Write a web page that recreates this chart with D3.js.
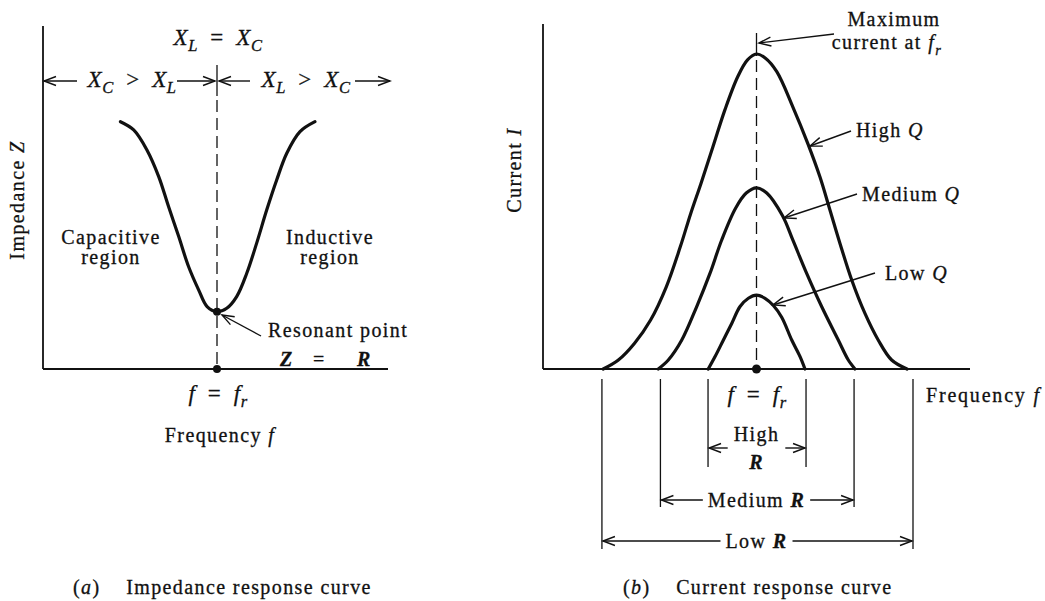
<!DOCTYPE html>
<html><head><meta charset="utf-8">
<script src="https://cdn.jsdelivr.net/npm/d3@7"></script>
<style>
html,body{margin:0;padding:0;background:#fff;}
svg text{font-family:"Liberation Serif","Times New Roman",serif;fill:#111;stroke:#111;stroke-width:0.3px;white-space:pre;}
</style></head><body>
<svg id="c" width="1045" height="601"></svg>
<script>
// ---------- data ----------
// (a) impedance curve: relative frequency vs impedance
const impedanceFreq = [-5.55,-4.79,-4.02,-3.35,-2.78,-2.20,-1.63,-1.05,-0.57,0,0.56,1.13,1.71,2.28,2.86,3.43,4.01,4.77,5.63];
const impedanceZ    = [7.21,6.97,6.38,5.61,4.73,3.86,2.98,2.30,1.82,1.67,1.77,2.11,2.79,3.67,4.64,5.51,6.29,6.92,7.21];
const resonantFreq = 0, resonantZ = 1.67;

// (b) current curves: relative frequency vs current
const highQFreq    = [-7.18,-6.47,-5.72,-4.96,-4.22,-3.57,-3.08,-2.60,-2.04,-1.48,-0.88,-0.42,0,0.42,0.95,1.70,2.40,2.97,3.44,3.91,4.46,5.08,5.70,6.33,7.05];
const highQCurrent = [0,0.26,0.74,1.42,2.39,3.54,4.51,5.38,6.44,7.51,8.47,8.96,9.13,9.01,8.62,7.60,6.54,5.57,4.61,3.64,2.58,1.61,0.84,0.26,0];
const medQFreq     = [-4.60,-4.13,-3.50,-2.80,-2.18,-1.63,-0.98,-0.48,0,0.48,1.22,1.70,2.35,3.05,3.83,4.30,4.61];
const medQCurrent  = [0,0.26,0.84,1.81,2.77,3.74,4.66,5.10,5.25,5.10,4.44,3.74,2.77,1.81,0.84,0.26,0];
const lowQFreq     = [-2.26,-1.94,-1.55,-1.16,-0.77,-0.38,0,0.40,0.79,1.18,1.65,2.04,2.27];
const lowQCurrent  = [0,0.36,0.84,1.32,1.81,2.05,2.14,2.05,1.84,1.50,0.84,0.36,0];

// bandwidth brackets
const bandNames = ["High", "Medium", "Low"];
const bandFrom  = [-2.27, -4.50, -7.24];
const bandTo    = [2.32, 4.57, 7.33];

// ---------- drawing ----------
const svg = d3.select('#c');
const ink = '#111';
const FS = 20;
const xL = d3.scaleLinear([-10,10],[43,391]);
const yL = d3.scaleLinear([0,10],[369,26]);
const xR = d3.scaleLinear([-10,10],[543,970]);
const yR = d3.scaleLinear([0,10],[369,24]);

function line(x1,y1,x2,y2,w=1.6,dash=null){
  const l = svg.append('line').attr('x1',x1).attr('y1',y1).attr('x2',x2).attr('y2',y2)
    .attr('stroke',ink).attr('stroke-width',w);
  if(dash) l.attr('stroke-dasharray',dash);
  return l;
}
function arrow(x1,y1,x2,y2,len=12,spread=4.5){
  line(x1,y1,x2,y2,1.4);
  const a = Math.atan2(y2-y1,x2-x1);
  const bx = x2-len*Math.cos(a), by = y2-len*Math.sin(a);
  const px = -Math.sin(a)*spread, py = Math.cos(a)*spread;
  svg.append('path').attr('d',`M${bx+px},${by+py}L${x2},${y2}L${bx-px},${by-py}`)
    .attr('fill','none').attr('stroke',ink).attr('stroke-width',1.4);
}
function rich(x,y,parts,anchor='middle',size=FS,ls=1.4,parent=svg){
  const t = parent.append('text').attr('x',x).attr('y',y).attr('text-anchor',anchor)
    .style('font-size',size+'px').style('letter-spacing',ls+'px');
  let shifted = 0;
  parts.forEach(([s,k])=>{
    const ts = t.append('tspan').text(s);
    if(k.includes('i')) ts.style('font-style','italic');
    if(k.includes('b')) ts.style('font-weight','bold');
    const target = k.includes('s') ? size*0.28 : 0;
    if(target!==shifted){ ts.attr('dy',target-shifted); shifted = target; }
    if(k.includes('s')) ts.style('font-size',(size*0.72)+'px');
  });
  return t;
}
const smooth = d3.curveCatmullRom.alpha(0.5);

// ===== (a) impedance panel =====
line(xL.range()[0], yL(10), xL.range()[0], yL(0), 1.8);
line(xL.range()[0], yL(0), 388, yL(0), 1.8);
line(xL(resonantFreq), 65, xL(resonantFreq), 96, 1.3);
line(xL(resonantFreq), 100, xL(resonantFreq), yL(0), 1.3, '12,6');

const impLine = d3.line().x(d=>xL(d[0])).y(d=>yL(d[1])).curve(smooth);
svg.append('path').attr('d', impLine(d3.zip(impedanceFreq, impedanceZ)))
  .attr('fill','none').attr('stroke',ink).attr('stroke-width',3.2).attr('stroke-linecap','round');
svg.append('circle').attr('cx',xL(resonantFreq)).attr('cy',yL(resonantZ)).attr('r',4).attr('fill',ink);
svg.append('circle').attr('cx',xL(resonantFreq)).attr('cy',yL(0)).attr('r',4).attr('fill',ink);

rich(218,45,[['X','i'],['L','is'],['  =  ','n'],['X','i'],['C','is']],'middle',23,0.5);
rich(132,87,[['X','i'],['C','is'],['  >  ','n'],['X','i'],['L','is']],'middle',23,0.5);
rich(306,87,[['X','i'],['L','is'],['  >  ','n'],['X','i'],['C','is']],'middle',23,0.5);
arrow(77,81,44,81);
arrow(177,81,215,81);
arrow(250,81,219,81);
arrow(355,81,390,81);

rich(111,244,[['Capacitive','n']]);
rich(111,264,[['region','n']]);
rich(330,244,[['Inductive','n']]);
rich(330,264,[['region','n']]);

const gA = svg.append('g').attr('transform','translate(24,200) rotate(-90)');
rich(0,0,[['Impedance ','n'],['Z','i']],'middle',FS,1.4,gA);

rich(268,337,[['Resonant point','n']],'start');
rich(280,366,[['Z','ib']],'start');
rich(313,366,[['=','n']],'start');
rich(357,366,[['R','ib']],'start');
arrow(261,336,222,315);

rich(218,401,[['f','i'],['  =  ','n'],['f','i'],['r','is']],'middle',23,0.5);
rich(220,442,[['Frequency ','n'],['f','i']]);
rich(73,594,[['(','n'],['a','i'],[')    Impedance response curve','n']],'start',FS,1.4);

// ===== (b) current panel =====
line(xR.range()[0], yR(10), xR.range()[0], yR(0), 1.8);
line(xR.range()[0], yR(0), xR.range()[1], yR(0), 1.8);
line(xR(0), 33, xR(0), 56, 1.3);
line(xR(0), 60, xR(0), yR(0), 1.3, '12,6');

const curLine = d3.line().x(d=>xR(d[0])).y(d=>yR(d[1])).curve(smooth);
[[highQFreq,highQCurrent],[medQFreq,medQCurrent],[lowQFreq,lowQCurrent]].forEach(([f,c])=>{
  svg.append('path').attr('d', curLine(d3.zip(f,c)))
    .attr('fill','none').attr('stroke',ink).attr('stroke-width',3.2).attr('stroke-linecap','round');
});
svg.append('circle').attr('cx',xR(0)).attr('cy',yR(0)).attr('r',4.5).attr('fill',ink);

const gB = svg.append('g').attr('transform','translate(521,170) rotate(-90)');
rich(0,0,[['Current ','n'],['I','i']],'middle',FS,1.4,gB);

rich(894,26,[['Maximum','n']]);
rich(887,49,[['current at ','n'],['f','i'],['r','is']]);
arrow(834,34,759,43);
rich(856,137,[['High ','n'],['Q','i']],'start');
arrow(851,131,810,146);
rich(862,201,[['Medium ','n'],['Q','i']],'start');
arrow(857,194,784,218);
rich(885,280,[['Low ','n'],['Q','i']],'start');
arrow(875,273,773,305);

rich(757,402,[['f','i'],['  =  ','n'],['f','i'],['r','is']],'middle',23,0.5);
rich(926,402,[['Frequency ','n'],['f','i']],'start',FS,1.8);

// brackets
const bracketY = [448, 500, 541];
const tickEnd  = [467, 507, 549];
bandNames.forEach((name,i)=>{
  const a = xR(bandFrom[i]), b = xR(bandTo[i]);
  line(a, 379, a, tickEnd[i], 1.3);
  line(b, 379, b, tickEnd[i], 1.3);
  const cx = xR(0);
  let half;
  if(name==='High'){
    const t1 = rich(cx, 441, [['High','n']]);
    rich(cx, 469, [['R','ib']]);
    half = t1.node().getComputedTextLength()/2 + 6;
  } else {
    const t = rich(cx, bracketY[i]+7, [[name+' ','n'],['R','ib']]);
    half = t.node().getComputedTextLength()/2 + 5;
  }
  arrow(cx-half, bracketY[i], a+1, bracketY[i]);
  arrow(cx+half, bracketY[i], b-1, bracketY[i]);
});

rich(623,594,[['(','n'],['b','i'],[')    Current response curve','n']],'start',FS,1.4);
</script>
</body></html>
